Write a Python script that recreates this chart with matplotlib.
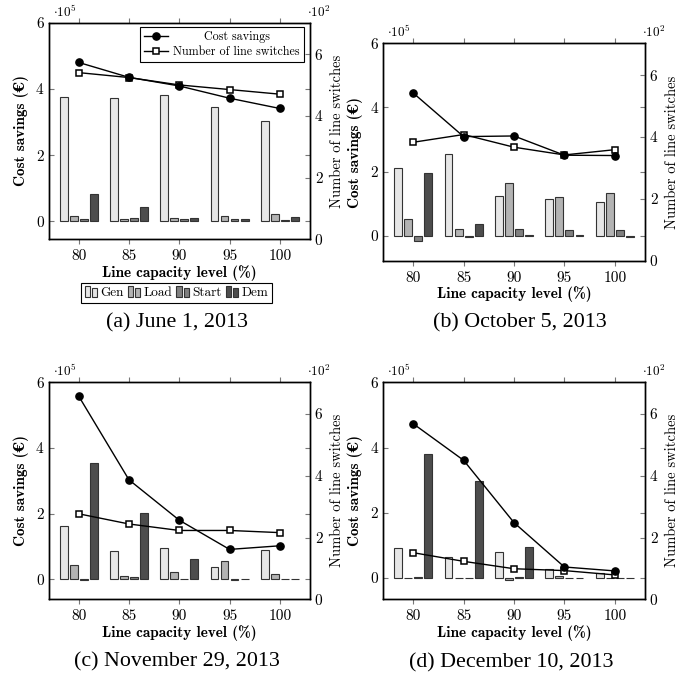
import numpy as np
import matplotlib
matplotlib.use("Agg")
import matplotlib.pyplot as plt
from matplotlib.patches import Rectangle
from matplotlib.lines import Line2D
from matplotlib.legend_handler import HandlerBase

plt.rcParams['font.family'] = ['cmr10', 'DejaVu Serif']
plt.rcParams['mathtext.fontset'] = 'cm'
plt.rcParams['axes.unicode_minus'] = False

levels = [80, 85, 90, 95, 100]
tick_vals = [0, 2, 4, 6]
tick_labels = ['0', '2', '4', '6']
bar_names = ['Gen', 'Load', 'Start', 'Dem']
bar_colors = ['#e6e6e6', '#b3b3b3', '#808080', '#4d4d4d']

# cost components and savings in 1e5 EUR, line switches in 1e2
# (a) June 1, 2013
gen_a = [3.77, 3.74, 3.83, 3.44, 3.04]
load_a = [0.16, 0.06, 0.11, 0.15, 0.23]
start_a = [0.08, 0.11, 0.08, 0.08, 0.05]
dem_a = [0.82, 0.44, 0.10, 0.07, 0.12]
cost_a = [4.80, 4.35, 4.09, 3.72, 3.41]
sw_a = [5.41, 5.25, 5.01, 4.86, 4.71]

# (b) October 5, 2013
gen_b = [2.12, 2.56, 1.25, 1.13, 1.04]
load_b = [0.53, 0.21, 1.63, 1.22, 1.33]
start_b = [-0.18, -0.03, 0.22, 0.17, 0.19]
dem_b = [1.97, 0.35, 0.01, 0.01, -0.03]
cost_b = [4.45, 3.09, 3.11, 2.51, 2.50]
sw_b = [3.83, 4.08, 3.67, 3.42, 3.59]

# (c) November 29, 2013
gen_c = [1.63, 0.87, 0.94, 0.37, 0.88]
load_c = [0.44, 0.09, 0.21, 0.57, 0.15]
start_c = [-0.02, 0.07, 0.02, -0.02, 0.0]
dem_c = [3.55, 2.02, 0.62, 0.01, 0.01]
cost_c = [5.58, 3.03, 1.80, 0.91, 1.02]
sw_c = [2.77, 2.44, 2.23, 2.23, 2.16]

# (d) December 10, 2013
gen_d = [0.93, 0.65, 0.79, 0.29, 0.17]
load_d = [-0.01, -0.01, -0.06, 0.07, 0.01]
start_d = [0.02, 0.0, 0.04, 0.0, 0.0]
dem_d = [3.80, 2.97, 0.96, 0.0, 0.0]
cost_d = [4.73, 3.61, 1.70, 0.34, 0.22]
sw_d = [1.51, 1.23, 0.99, 0.93, 0.79]

captions = ['(a) June 1, 2013', '(b) October 5, 2013',
            '(c) November 29, 2013', '(d) December 10, 2013']

W, H = 699, 677
fig = plt.figure(figsize=(W / 100, H / 100), dpi=100)


class TwoBars(HandlerBase):
    def create_artists(self, legend, orig_handle, xdescent, ydescent,
                       width, height, fontsize, trans):
        bw = width * 0.4
        arts = []
        for i, hh in enumerate([1.0, 0.85]):
            r = Rectangle((-xdescent + i * width * 0.55, -ydescent), bw, height * hh,
                          facecolor=orig_handle.get_facecolor(),
                          edgecolor='#333333', lw=0.8, transform=trans)
            arts.append(r)
        return arts


def px_rect(l, r, t, b):
    return [l / W, 1 - b / H, (r - l) / W, (b - t) / H]


line_leg = None


def panel(rect, gen, load, start, dem, cost, sw, ymin, caption, cap_xy, first=False):
    global line_leg
    ax = fig.add_axes(rect)
    ax2 = ax.twinx()
    x = np.array(levels, dtype=float)
    offs = [-1.5, -0.5, 0.5, 1.5]
    for k, vals in enumerate([gen, load, start, dem]):
        ax.bar(x + offs[k], vals, width=0.78, color=bar_colors[k],
               edgecolor='#333333', linewidth=0.8, zorder=2)
    ax2.plot(x, sw, '-', color='k', lw=1.0, marker='s', ms=4.3, mfc='white',
             mec='k', mew=1.1, zorder=3)
    ax2.plot(x, cost, '-', color='k', lw=1.0, marker='o', ms=5.2,
             transform=ax.transData, zorder=4)
    ax.set_xlim(77, 103)
    ax.set_ylim(ymin, 6)
    ax2.set_ylim(0, 7.03)
    ax.set_xticks(levels)
    ax.set_xticklabels([str(v) for v in levels])
    ax.set_yticks(tick_vals)
    ax.set_yticklabels(tick_labels)
    ax2.set_yticks(tick_vals)
    ax2.set_yticklabels(tick_labels)
    ax.tick_params(axis='x', direction='out', top=True, bottom=True, length=3.5,
                   color='#777777', labelsize=11, pad=4)
    ax.tick_params(axis='y', direction='in', left=True, right=True, length=3.5,
                   color='#777777', labelsize=11, pad=3.5)
    ax2.tick_params(axis='y', direction='in', right=True, length=3.5,
                    color='#777777', labelsize=11, pad=3.5)
    for a in (ax, ax2):
        for s in a.spines.values():
            s.set_linewidth(1.0)
            s.set_color('black')
    ax.set_xlabel('Line capacity level (%)', family=['cmb10', 'DejaVu Serif'],
                  fontsize=11, va='top')
    ax.xaxis.set_label_coords(0.5, -0.118)
    ax.set_ylabel('Cost savings (€)', family=['cmb10', 'DejaVu Serif'],
                  weight='bold', fontsize=11)
    ax.yaxis.set_label_coords(-0.075, 0.5)
    ax2.set_ylabel('Number of line switches', fontsize=10.5)
    ax2.yaxis.set_label_coords(1.078, 0.5)
    ax.text(0.017, 1.05, r'$\cdot 10^{5}$', transform=ax.transAxes,
            ha='left', va='center', fontsize=9.5)
    ax.text(0.988, 1.05, r'$\cdot 10^{2}$', transform=ax.transAxes,
            ha='left', va='center', fontsize=9.5)
    fig.text(cap_xy[0] / W, 1 - cap_xy[1] / H, caption, ha='center', va='center',
             family='Liberation Serif', fontsize=15.8)
    if first:
        hl = [Line2D([], [], color='k', lw=1.0, marker='o', ms=5.2),
              Line2D([], [], color='k', lw=1.0, marker='s', ms=4.3, mfc='white', mew=1.1)]
        line_leg = ax2.legend(hl, ['Cost savings', 'Number of line switches'],
                              loc='upper right', bbox_to_anchor=(0.977, 0.982),
                              borderaxespad=0, fancybox=False, edgecolor='k',
                              framealpha=1, fontsize=8.7, handlelength=2.0,
                              handletextpad=0.4, borderpad=0.35, labelspacing=0.25)
        line_leg.get_frame().set_linewidth(0.8)
        bh = [Rectangle((0, 0), 1, 1, facecolor=c) for c in bar_colors]
        bl = fig.legend(bh, bar_names, loc='upper center',
                        bbox_to_anchor=(176.5 / W, 1 - 283 / H), ncol=4,
                        handler_map={Rectangle: TwoBars()}, fancybox=False,
                        edgecolor='k', framealpha=1, fontsize=9.5, handlelength=1.0,
                        handleheight=0.9, handletextpad=0.2, columnspacing=0.3,
                        borderpad=0.25, borderaxespad=0)
        bl.get_frame().set_linewidth(0.8)
    return ax


panel(px_rect(48.5, 310, 22.7, 239.3), gen_a, load_a, start_a, dem_a, cost_a, sw_a,
      -0.54, captions[0], (177, 323), first=True)
panel(px_rect(383, 645, 43.3, 260.7), gen_b, load_b, start_b, dem_b, cost_b, sw_b,
      -0.78, captions[1], (520, 323))
panel(px_rect(48.5, 310, 382.3, 599.3), gen_c, load_c, start_c, dem_c, cost_c, sw_c,
      -0.61, captions[2], (177, 662))
panel(px_rect(383, 645, 382.3, 599.3), gen_d, load_d, start_d, dem_d, cost_d, sw_d,
      -0.65, captions[3], (511, 663))

# center the shorter legend entry within the text column, as in the original
fig.canvas.draw()
t0, t1 = line_leg.get_texts()
shift = (t1.get_window_extent().width - t0.get_window_extent().width) / 2
t0.set_position((shift, 0))

fig.savefig('out.png', dpi=100)
